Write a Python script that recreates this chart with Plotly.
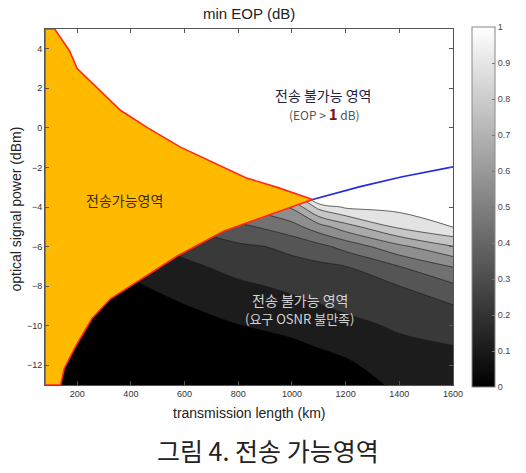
import plotly.graph_objects as go

# ---------------- data ----------------
x_range = [80, 1600]
y_range = [-13, 5]

# upper boundary of feasible region (red, EOP limit side)
upper_km  = [116, 171, 200, 361, 463, 525, 583, 828, 948, 1077]
upper_dbm = [5.0, 3.9, 3.0, 0.89, 0.0, -0.51, -0.96, -2.52, -3.02, -3.62]

# lower boundary of feasible region (red, required OSNR)
lower_km  = [138, 152, 196, 255, 324, 427, 573, 745, 913, 1077]
lower_dbm = [-13.0, -12.15, -11.0, -9.64, -8.64, -7.74, -6.48, -5.23, -4.43, -3.62]

# EOP = 1 dB contour beyond the crossing (blue)
eop_km  = [1077, 1254, 1411, 1600]
eop_dbm = [-3.62, -2.97, -2.47, -1.97]

# min EOP (dB) grid, estimated from the filled contour bands
grid_km  = [80, 200, 400, 600, 800, 900, 1000, 1100, 1200, 1400, 1600]
grid_dbm = [-13, -12, -11, -10, -9, -8, -7, -6, -5, -4, -3, -2, -1]
eop_columns = {
    80:   [0, 0, 0, 0, 0, 0, 0, 0.02, 0.04, 0.06, 0.08, 0.10, 0.12],
    200:  [0, 0, 0, 0, 0, 0, 0, 0.02, 0.04, 0.06, 0.08, 0.10, 0.12],
    400:  [0, 0, 0, 0.02, 0.05, 0.085, 0.12, 0.16, 0.20, 0.25, 0.30, 0.35, 0.40],
    600:  [0, 0, 0.013, 0.055, 0.096, 0.137, 0.179, 0.232, 0.30, 0.40, 0.50, 0.60, 0.70],
    800:  [0, 0.009, 0.052, 0.096, 0.139, 0.183, 0.231, 0.283, 0.377, 0.50, 0.70, 0.90, 1.10],
    900:  [0, 0.022, 0.067, 0.111, 0.156, 0.20, 0.25, 0.30, 0.414, 0.55, 0.80, 1.10, 1.40],
    1000: [0, 0.036, 0.082, 0.127, 0.173, 0.219, 0.265, 0.329, 0.462, 0.614, 0.90, 1.20, 1.50],
    1100: [0.02, 0.059, 0.105, 0.15, 0.195, 0.237, 0.279, 0.371, 0.557, 0.833, 1.25, 1.40, 1.50],
    1200: [0.036, 0.082, 0.127, 0.173, 0.217, 0.258, 0.30, 0.433, 0.655, 0.915, 1.02, 1.10, 1.20],
    1400: [0.123, 0.151, 0.18, 0.213, 0.256, 0.299, 0.40, 0.576, 0.822, 0.93, 0.977, 1.02, 1.07],
    1600: [0.133, 0.167, 0.20, 0.248, 0.295, 0.382, 0.505, 0.696, 0.904, 0.936, 0.967, 0.999, 1.03],
}

x_ticks = [200, 400, 600, 800, 1000, 1200, 1400, 1600]
y_ticks = [-12, -10, -8, -6, -4, -2, 0, 2, 4]
cbar_ticks = [0, 0.1, 0.2, 0.3, 0.4, 0.5, 0.6, 0.7, 0.8, 0.9, 1]
cbar_labels = ["0", "0.1", "0.2", "0.3", "0.4", "0.5", "0.6", "0.7", "0.8", "0.9", "1"]

# ---------------- figure ----------------
W, H = 526, 473
L, R, T, B = 45, 65, 29, 88
PW, PH = W - L - R, H - T - B


def px(xp, yp):
    return (xp - L) / PW, (H - B - yp) / PH


z = [[eop_columns[k][j] for k in grid_km] for j in range(len(grid_dbm))]
gray = [[0, "rgb(0,0,0)"], [1, "rgb(255,255,255)"]]

fig = go.Figure()

fig.add_trace(go.Contour(
    x=grid_km, y=grid_dbm, z=z,
    colorscale=gray, showscale=False,
    contours=dict(start=0.1, end=0.9, size=0.1, coloring="fill"),
    line=dict(color="rgba(30,30,30,0.85)", width=0.8, smoothing=1),
    hoverinfo="skip",
))

# infeasible (EOP > 1 dB) white region
wx = upper_km + eop_km[1:] + [x_range[1], upper_km[0]]
wy = upper_dbm + eop_dbm[1:] + [y_range[1], y_range[1]]
fig.add_trace(go.Scatter(x=wx, y=wy, fill="toself", fillcolor="white",
                         mode="none", hoverinfo="skip", showlegend=False))

# feasible region (orange with red outline)
ox = [x_range[0], x_range[0]] + upper_km + lower_km[::-1] + [x_range[0]]
oy = [y_range[0], y_range[1]] + upper_dbm + lower_dbm[::-1] + [y_range[0]]
fig.add_trace(go.Scatter(x=ox, y=oy, fill="toself", fillcolor="#FFBA00",
                         mode="lines", line=dict(color="#FF2A1A", width=1.6),
                         hoverinfo="skip", showlegend=False))

# EOP = 1 dB line (blue)
fig.add_trace(go.Scatter(x=eop_km, y=eop_dbm, mode="lines",
                         line=dict(color="#2626E6", width=1.6),
                         hoverinfo="skip", showlegend=False))

# continuous colour bar
fig.add_trace(go.Scatter(
    x=[None, None], y=[None, None], mode="markers",
    marker=dict(color=[0, 1], colorscale=gray, cmin=0, cmax=1, showscale=True,
                colorbar=dict(
                    x=(480 - L) / PW, xanchor="left", y=0.5, yanchor="middle",
                    thickness=23, thicknessmode="pixels",
                    len=360, lenmode="pixels",
                    outlinecolor="#888", outlinewidth=1,
                    ticks="inside", ticklen=3, tickcolor="#777",
                    tickvals=cbar_ticks, ticktext=cbar_labels,
                    tickfont=dict(family="Liberation Sans", size=9, color="#444"),
                    xpad=0, ypad=0)),
    hoverinfo="skip", showlegend=False))

axis_common = dict(showgrid=False, zeroline=False, showline=True, linecolor="#555",
                   linewidth=1, mirror="ticks", ticks="inside", ticklen=4,
                   tickcolor="#555",
                   tickfont=dict(family="Liberation Sans", size=9, color="#333"))

fig.update_xaxes(range=x_range, tickvals=x_ticks, **axis_common)
fig.update_yaxes(range=y_range, tickvals=y_ticks, **axis_common)

kr = "Noto Sans CJK KR"
ann = []


def add_text(text, xp, yp, size, color, family=kr, angle=0):
    ax, ay = px(xp, yp)
    ann.append(dict(text=text, x=ax, y=ay, xref="paper", yref="paper",
                    xanchor="center", yanchor="middle", showarrow=False,
                    textangle=angle, font=dict(family=family, size=size, color=color)))


add_text("min EOP (dB)", 253, 14, 15, "#222", family="Liberation Sans")
add_text("transmission length (km)", 253, 413, 14, "#222", family="Liberation Sans")
add_text("optical signal power (dBm)", 15, 209, 14, "#222", family="Liberation Sans", angle=-90)
add_text("그림 4. 전송 가능영역", 272, 450, 25, "#222")
add_text("전송 불가능 영역", 328, 95, 14, "#22223a")
add_text("(EOP &gt; <span style='color:#7a1020;font-size:15px'><b>1</b></span> dB)", 330, 113, 12, "#555")
add_text("전송가능영역", 126, 200, 14, "#3a2e00")
add_text("전송 불가능 영역", 305, 300, 14, "#d4d4d4")
add_text("(요구 OSNR 불만족)", 304, 318, 13, "#d4d4d4")

fig.update_layout(
    width=W, height=H, autosize=False,
    margin=dict(l=L, r=R, t=T, b=B),
    paper_bgcolor="white", plot_bgcolor="white",
    showlegend=False, annotations=ann,
)

fig.write_html("out.html")
